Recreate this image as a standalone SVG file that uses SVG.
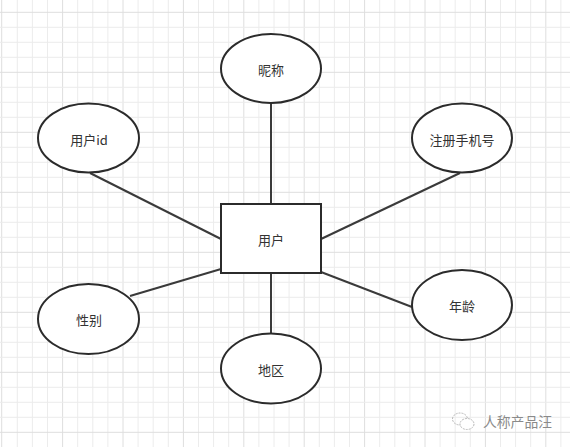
<svg xmlns="http://www.w3.org/2000/svg" width="570" height="447" viewBox="0 0 570 447">
<defs>
<style>
.gm{stroke:#ececec;stroke-width:1;fill:none}
.gM{stroke:#dedede;stroke-width:1;fill:none}
.n{fill:#ffffff;stroke:#2b2b2b;stroke-width:2}
.t{font-family:"Noto Sans CJK SC","Liberation Sans",sans-serif;font-size:13px;fill:#333333;text-anchor:middle;dominant-baseline:central}
.c{stroke:#3a3a3a;stroke-width:2;fill:none}
</style>
</defs>
<rect width="570" height="447" fill="#ffffff"/>
<g id="grid">
<path class="gm" d="M17.3 0V447M32.4 0V447M47.5 0V447M77.7 0V447M92.8 0V447M107.9 0V447M138.1 0V447M153.2 0V447M168.3 0V447M198.5 0V447M213.6 0V447M228.7 0V447M258.9 0V447M274 0V447M289.1 0V447M319.3 0V447M334.4 0V447M349.5 0V447M379.7 0V447M394.8 0V447M409.9 0V447M440.1 0V447M455.2 0V447M470.3 0V447M500.5 0V447M515.6 0V447M530.7 0V447M560.9 0V447"/>
<path class="gM" d="M1.7 0V447M62.6 0V447M123 0V447M183.4 0V447M243.8 0V447M304.2 0V447M364.6 0V447M425 0V447M485.4 0V447M545.8 0V447"/>
<path class="gm" d="M0 27.3H570M0 42.3H570M0 57.3H570M0 87.3H570M0 102.3H570M0 117.3H570M0 147.3H570M0 162.3H570M0 177.3H570M0 207.3H570M0 222.3H570M0 237.3H570M0 267.3H570M0 282.3H570M0 297.3H570M0 327.3H570M0 342.3H570M0 357.3H570M0 387.3H570M0 402.3H570M0 417.3H570"/>
<path class="gM" d="M0 12.3H570M0 72.3H570M0 132.3H570M0 192.3H570M0 252.3H570M0 312.3H570M0 372.3H570M0 432.3H570"/>
</g>
<g id="connectors">
<line class="c" x1="271" y1="103" x2="271" y2="204"/>
<line class="c" x1="90" y1="173" x2="221" y2="239"/>
<line class="c" x1="460" y1="173" x2="321" y2="239"/>
<line class="c" x1="130" y1="296" x2="221" y2="269"/>
<line class="c" x1="321" y1="272" x2="412" y2="307"/>
<line class="c" x1="271" y1="273" x2="271" y2="334"/>
</g>
<g id="user">
<rect class="n" x="221" y="204" width="100" height="69"/>
<text class="t" x="271" y="239">用户</text>
</g>
<g id="nickname">
<ellipse class="n" cx="271" cy="68.5" rx="50" ry="34.5"/>
<text class="t" x="271" y="69">昵称</text>
</g>
<g id="userid">
<ellipse class="n" cx="88.5" cy="138" rx="50.5" ry="34.5"/>
<text class="t" x="89" y="139">用户id</text>
</g>
<g id="phone">
<ellipse class="n" cx="462" cy="138" rx="50" ry="34.5"/>
<text class="t" x="462" y="139">注册手机号</text>
</g>
<g id="gender">
<ellipse class="n" cx="88.5" cy="319" rx="50.5" ry="35"/>
<text class="t" x="89" y="319">性别</text>
</g>
<g id="region">
<ellipse class="n" cx="271" cy="368.5" rx="50" ry="35"/>
<text class="t" x="271" y="369">地区</text>
</g>
<g id="age">
<ellipse class="n" cx="462" cy="305" rx="50" ry="35"/>
<text class="t" x="462" y="305">年龄</text>
</g>
<g id="watermark">
<ellipse cx="460" cy="419" rx="7.5" ry="6" fill="none" stroke="#b8b8b8" stroke-width="1" stroke-dasharray="2 1"/>
<ellipse cx="467" cy="424" rx="7" ry="5.5" fill="#ffffff" stroke="#b8b8b8" stroke-width="1" stroke-dasharray="2 1"/>
<text x="483" y="421" font-family="Noto Sans CJK SC, sans-serif" font-size="14" textLength="69" lengthAdjust="spacingAndGlyphs" fill="#8a8a8a" dominant-baseline="central">人称产品汪</text>
</g>
</svg>
